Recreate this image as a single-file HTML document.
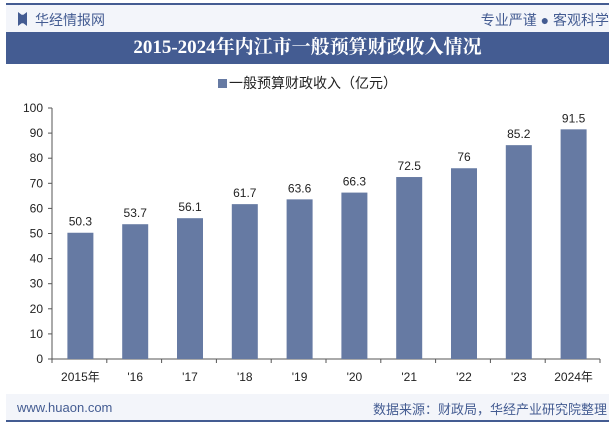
<!DOCTYPE html>
<html><head><meta charset="utf-8"><style>
body{margin:0;width:615px;height:427px;background:#fff;font-family:"Liberation Sans","Noto Sans CJK SC",sans-serif;overflow:hidden;position:relative}
.a{position:absolute}
</style></head><body>
<div class="a" style="left:6px;top:5px;width:603px;height:27px;background:#f3f5fa"></div>
<div class="a" style="left:6px;top:3px;width:603px;height:2px;background:#445c92"></div>
<div class="a" style="left:18px;top:12px;width:9px;height:14px;background:#445c92;clip-path:polygon(0 0,40% 20%,60% 20%,100% 0,100% 100%,60% 80%,40% 80%,0 100%)"></div>
<div class="a" style="left:35px;top:10px;font-size:14px;color:#445c92">华经情报网</div>
<div class="a" style="right:6px;top:10px;font-size:14px;color:#445c92">专业严谨 ● 客观科学</div>
<div class="a" style="left:6px;top:32px;width:603px;height:32px;background:#445c92;color:#fff;font-family:'Liberation Serif','Noto Serif CJK SC',serif;font-weight:bold;font-size:19px;text-align:center;line-height:32px">2015-2024年内江市一般预算财政收入情况</div>
<div class="a" style="left:0;width:615px;top:73px;text-align:center;font-size:14px;color:#222"><span style="display:inline-block;width:9px;height:9px;background:#667aa3;margin-right:2px"></span>一般预算财政收入（亿元）</div>
<div class="a" style="left:6px;top:394px;width:603px;height:26px;background:#f3f5fa"></div>
<div class="a" style="left:6px;top:420px;width:603px;height:2px;background:#445c92"></div>
<div class="a" style="left:17px;top:400px;font-size:13px;color:#445c92">www.huaon.com</div>
<div class="a" style="right:8px;top:399px;font-size:13px;color:#445c92">数据来源：财政局，华经产业研究院整理</div>
<svg class="a" style="left:0;top:0" width="615" height="427"><g id="g"></g></svg>
<script>
const categories=["2015年","'16","'17","'18","'19","'20","'21","'22","'23","2024年"];
const values=[50.3,53.7,56.1,61.7,63.6,66.3,72.5,76,85.2,91.5];
const labels=["50.3","53.7","56.1","61.7","63.6","66.3","72.5","76","85.2","91.5"];
const ticks=[0,10,20,30,40,50,60,70,80,90,100];
const x0=52,x1=600,y0=359,y1=108;
const y=v=>y0-(v/100)*(y0-y1);
const bw=(x1-x0)/categories.length;
const xc=i=>x0+bw*(i+0.5)+1;
const g=document.getElementById('g');const NS='http://www.w3.org/2000/svg';
function mk(t,a,txt){const e=document.createElementNS(NS,t);for(const k in a)e.setAttribute(k,a[k]);if(txt!==undefined)e.textContent=txt;g.appendChild(e);return e;}
let e=mk('line',{x1:x0,y1:y1,x2:x0,y2:y0,stroke:'#555'});

e=mk('line',{x1:x0,y1:y0,x2:x1,y2:y0,stroke:'#555'});

ticks.forEach(t=>{
 e=mk('line',{x1:x0-4,y1:y(t),x2:x0,y2:y(t),stroke:'#555'});
 
 e=mk('text',{x:x0-9,y:y(t)+4,'text-anchor':'end','font-size':12,fill:'#222'},t);
 
});
for(let i=0;i<=categories.length;i++){e=mk('line',{x1:x0+bw*i,y1:y0,x2:x0+bw*i,y2:y0+4,stroke:'#555'});}
values.forEach((v,i)=>{
 e=mk('rect',{x:xc(i)-13,y:y(v),width:26,height:y0-y(v),fill:'#667aa3'});
 
 e=mk('text',{x:xc(i),y:y(v)-7,'text-anchor':'middle','font-size':12,fill:'#222'},labels[i]);
 
 e=mk('text',{x:xc(i),y:381,'text-anchor':'middle','font-size':12,fill:'#222'},categories[i]);
 
});
</script>
</body></html>
